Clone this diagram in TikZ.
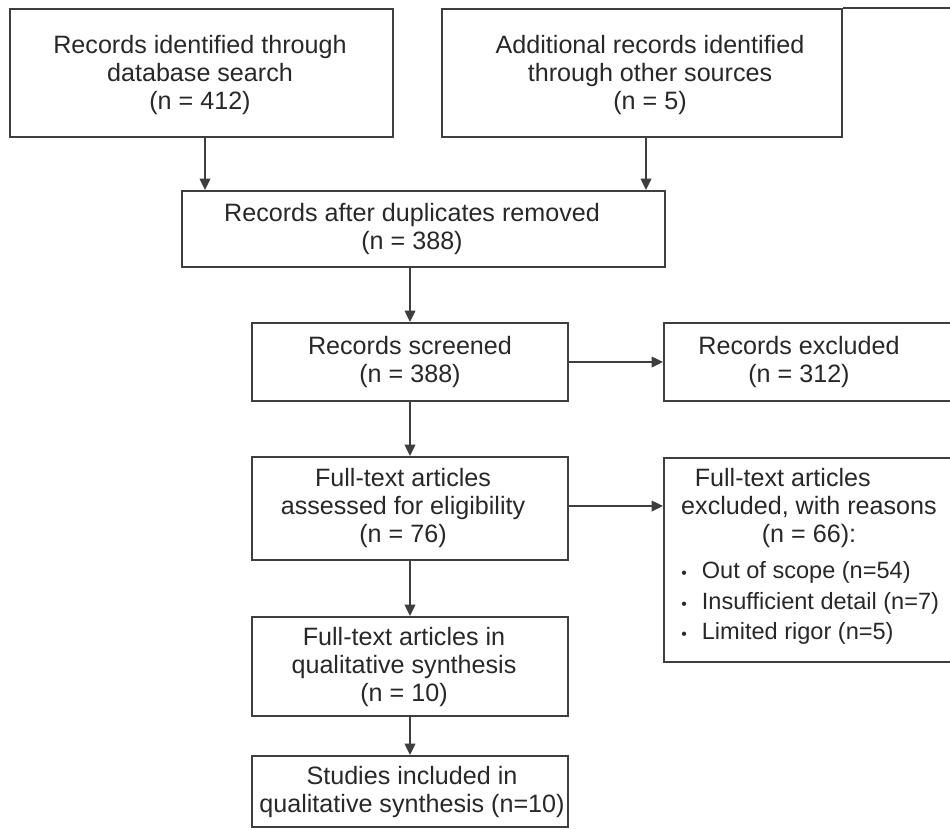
\documentclass[tikz,border=0pt]{standalone}
\usepackage{fontspec}
\setmainfont{Liberation Sans}
\usetikzlibrary{arrows.meta,fit}
\definecolor{linec}{RGB}{62,62,62}
\definecolor{textc}{RGB}{40,40,40}
\tikzset{
  box/.style={draw=linec, line width=1.1pt, fill=white, inner sep=0pt},
  txt/.style={text=textc, align=center, inner sep=0pt, font=\fontsize{14.3}{16.2}\selectfont},
  bullets/.style={text=textc, align=left, inner sep=0pt, anchor=west, font=\fontsize{13.4}{17.2}\selectfont},
  arr/.style={draw=linec, line width=1.1pt, -{Triangle[length=6.5pt,width=6pt]}},
  plainline/.style={draw=linec, line width=1.1pt}
}
\newcommand{\bul}{{\fontsize{9}{10}\selectfont •}\hspace{0.3cm}}
\begin{document}
\begin{tikzpicture}[x=0.02cm,y=-0.02cm]
\clip (0,0) rectangle (950,829);
\fill[white] (0,0) rectangle (950,829);
\useasboundingbox (0,0) rectangle (950,829);

% boxes
\node[box, fit={(10,9) (393,137)}] (b1) {};
\node[box, fit={(442,9) (842,137)}] (b2) {};
\node[box, fit={(182,191) (665,267)}] (b3) {};
\node[box, fit={(252,323) (568,401)}] (b4) {};
\node[box, fit={(252,457) (568,560)}] (b5) {};
\node[box, fit={(252,617) (568,716)}] (b6) {};
\node[box, fit={(252,756) (568,827)}] (b7) {};
\node[box, fit={(664,323) (990,401)}] (r1) {};
\node[box, fit={(664,458) (990,662)}] (r2) {};

% texts
\node[txt] (t1) at (200,75) {Records identified through\\database search\\(n = 412)};
\node[txt] (t2) at (650,75) {Additional records identified\\through other sources\\(n = 5)};
\node[txt] (t3) at (412,229) {Records after duplicates removed\\(n = 388)};
\node[txt] (t4) at (410,362) {Records screened\\(n = 388)};
\node[txt] (t5) at (403,508) {Full-text articles\\assessed for eligibility\\(n = 76)};
\node[txt] (t6) at (404,667) {Full-text articles in\\qualitative synthesis\\(n = 10)};
\node[txt] (t7) at (412,792) {Studies included in\\qualitative synthesis (n=10)};
\node[txt] (t8) at (799,362) {Records excluded\\(n = 312)};
\node[txt] (t9) at (809,508) {Full-text articles\hspace*{1.05cm}\\excluded, with reasons\\(n = 66):};
\node[bullets] (t10) at (681,603) {\bul Out of scope (n=54)\\\bul Insufficient detail (n=7)\\\bul Limited rigor (n=5)};

% connectors
\coordinate (topend) at (960,9);
\draw[plainline] (b2.north east) -- (b2.north east -| topend);
\draw[arr] ([xshift=0.07cm]b1.south) -- ([xshift=0.07cm]b1.south |- b3.north);
\draw[arr] ([xshift=0.08cm]b2.south) -- ([xshift=0.08cm]b2.south |- b3.north);
\draw[arr] (b3.south -| b4.north) -- (b4.north);
\draw[arr] (b4.east) -- (b4.east -| r1.west);
\draw[arr] (b4.south) -- (b5.north);
\draw[arr] ([yshift=0.05cm]b5.east) -- ([yshift=0.05cm]b5.east -| r2.west);
\draw[arr] (b5.south) -- (b6.north);
\draw[arr] (b6.south) -- (b7.north);
\end{tikzpicture}
\end{document}
